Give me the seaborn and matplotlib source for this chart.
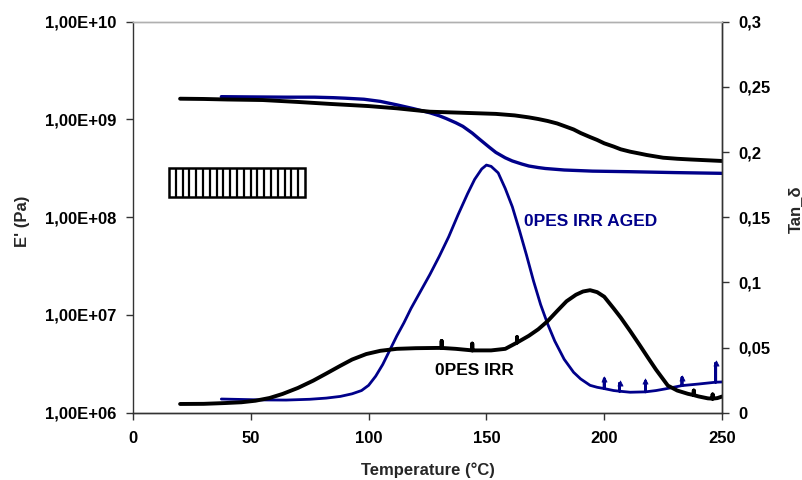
import numpy as np
import pandas as pd
import matplotlib
matplotlib.use("Agg")
import matplotlib.pyplot as plt
from matplotlib.patches import Rectangle
import seaborn as sns

# ---------------- data ----------------
# Storage modulus E' (Pa)
black_E_T = [20, 30, 40, 55, 70, 84, 100, 112, 126, 140, 154, 162, 168, 172, 176,
             180, 183, 187, 190, 194, 197, 200, 204, 207, 211, 215, 218, 225, 231,
             237, 244, 250]
black_E = [1.63e9, 1.62e9, 1.60e9, 1.58e9, 1.51e9, 1.44e9, 1.37e9, 1.30e9, 1.20e9,
           1.17e9, 1.14e9, 1.10e9, 1.05e9, 1.01e9, 9.64e8, 9.10e8, 8.57e8, 7.90e8,
           7.26e8, 6.60e8, 6.17e8, 5.70e8, 5.28e8, 4.95e8, 4.68e8, 4.48e8, 4.33e8,
           4.06e8, 3.96e8, 3.89e8, 3.82e8, 3.76e8]

blue_E_T = [37.5, 50, 65, 77, 85, 90, 98, 105, 112, 119, 126, 130, 133, 137, 140,
            144, 147, 151, 154, 158, 161, 165, 168, 172, 175, 183, 195, 211, 230, 250]
blue_E = [1.71e9, 1.70e9, 1.69e9, 1.69e9, 1.67e9, 1.65e9, 1.61e9, 1.53e9, 1.41e9,
          1.29e9, 1.17e9, 1.09e9, 1.02e9, 9.25e8, 8.50e8, 7.25e8, 6.30e8, 5.25e8,
          4.60e8, 4.05e8, 3.76e8, 3.50e8, 3.34e8, 3.22e8, 3.15e8, 3.04e8, 2.96e8,
          2.92e8, 2.86e8, 2.81e8]

# Tan delta
blue_tan_T = [37.5, 45, 55, 65, 75, 82, 88, 93, 97, 100, 103, 106, 109, 112, 115,
              118, 122, 126, 130, 134, 138, 142, 145, 148, 150, 152, 155, 158, 161,
              164, 167, 170, 173, 176, 179, 183, 187, 190, 194, 197,
              200, 200, 200, 204, 206.5, 206.5, 206.5, 211, 217.5, 217.5, 217.5,
              222, 226, 233, 233, 233, 240, 247.3, 247.3, 247.3, 250]
blue_tan = [0.0105, 0.0102, 0.0098, 0.0097, 0.0103, 0.0112, 0.0125, 0.0145, 0.017,
            0.021, 0.028, 0.037, 0.048, 0.059, 0.069, 0.080, 0.093, 0.106, 0.120,
            0.135, 0.152, 0.168, 0.179, 0.187, 0.190, 0.189, 0.184, 0.172, 0.158,
            0.140, 0.121, 0.101, 0.083, 0.068, 0.055, 0.041, 0.031, 0.0259, 0.021,
            0.0195,
            0.0185, 0.026, 0.0185, 0.017, 0.0165, 0.0225, 0.0165, 0.0157, 0.016,
            0.024, 0.016, 0.017, 0.0183, 0.0208, 0.027, 0.0208, 0.022,
            0.0234, 0.038, 0.0234, 0.0236]
blue_spike_T = [200, 206.5, 217.5, 233, 247.3]
blue_spike_top = [0.026, 0.0225, 0.024, 0.027, 0.038]

black_tan_T = [20, 30, 39, 46, 52, 58, 63.5, 70, 76.5, 82, 88, 93, 99, 105, 112, 120,
               129, 131, 131, 131, 137, 144, 144, 144, 152, 158, 163, 163, 163, 168,
               172, 176, 180, 184, 188, 191, 194, 197, 200, 204, 207, 211, 215,
               218.5, 222, 227, 231, 235.5, 238, 238, 238, 240, 244, 246, 246, 246,
               248, 250]
black_tan = [0.0067, 0.0068, 0.0074, 0.0080, 0.0092, 0.0113, 0.0144, 0.019, 0.0246,
             0.030, 0.036, 0.0408, 0.045, 0.0475, 0.049, 0.0495, 0.0497, 0.0497,
             0.055, 0.0497, 0.0490, 0.0478, 0.053, 0.0478, 0.0478, 0.049, 0.0538,
             0.058, 0.0538, 0.059, 0.064, 0.0703, 0.078, 0.0855, 0.0905, 0.093,
             0.094, 0.0925, 0.089, 0.080, 0.073, 0.0627, 0.052, 0.0424, 0.033,
             0.0208, 0.017, 0.0145, 0.0135, 0.017, 0.0135, 0.0125, 0.011, 0.0108,
             0.014, 0.0108, 0.0112, 0.0124]

x_ticks = [0, 50, 100, 150, 200, 250]
left_ticks = [1e6, 1e7, 1e8, 1e9, 1e10]
left_tick_labels = ["1,00E+06", "1,00E+07", "1,00E+08", "1,00E+09", "1,00E+10"]
right_ticks = [0, 0.05, 0.1, 0.15, 0.2, 0.25, 0.3]
right_tick_labels = ["0", "0,05", "0,1", "0,15", "0,2", "0,25", "0,3"]

label_aged = "0PES IRR AGED"
label_irr = "0PES IRR"

# ---------------- style ----------------
sns.set_style("ticks")
plt.rcParams["font.family"] = ["Liberation Sans", "DejaVu Sans"]
plt.rcParams["font.weight"] = "bold"

NAVY = "#00008a"
BLACK = "#000000"
FS = 12

fig = plt.figure(figsize=(8.02, 4.80), dpi=100)
ax = fig.add_axes([0.1658, 0.1402, 0.7345, 0.8146])
ax2 = ax.twinx()

# E' curves (left, log)
sns.lineplot(x=blue_E_T, y=blue_E, ax=ax, color=NAVY, lw=2.4,
             estimator=None, sort=False)
sns.lineplot(x=black_E_T, y=black_E, ax=ax, color=BLACK, lw=2.8,
             estimator=None, sort=False)
ax.set_yscale("log")
ax.set_ylim(1e6, 1e10)
ax.set_xlim(0, 250)

# tan delta curves (right)
sns.lineplot(x=blue_tan_T, y=blue_tan, ax=ax2, color=NAVY, lw=2.0,
             estimator=None, sort=False)
sns.scatterplot(x=blue_spike_T, y=blue_spike_top, ax=ax2, color=NAVY,
                marker="^", s=14, edgecolor=NAVY, linewidth=0.5)
sns.lineplot(x=black_tan_T, y=black_tan, ax=ax2, color=BLACK, lw=2.8,
             estimator=None, sort=False)
ax2.set_ylim(0, 0.3)

# ticks
ax.set_xticks(x_ticks)
ax.set_xticklabels([str(v) for v in x_ticks], fontsize=FS, fontweight="bold")
ax.set_yticks(left_ticks)
ax.set_yticklabels(left_tick_labels, fontsize=FS, fontweight="bold")
ax.yaxis.set_minor_locator(matplotlib.ticker.NullLocator())
ax2.set_yticks(right_ticks)
ax2.set_yticklabels(right_tick_labels, fontsize=FS, fontweight="bold")
ax2.yaxis.set_minor_locator(matplotlib.ticker.NullLocator())
for a in (ax, ax2):
    a.tick_params(axis="both", which="major", direction="out", length=5,
                  width=1, color="#333333", labelcolor="#000000")
ax.tick_params(axis="y", pad=7)
ax.tick_params(axis="x", pad=8)
ax2.tick_params(axis="y", pad=7)

# spines
for a in (ax, ax2):
    for s in ("left", "right", "bottom"):
        a.spines[s].set_color("#333333")
        a.spines[s].set_linewidth(1.0)
    a.spines["top"].set_color("#b0b0b0")
    a.spines["top"].set_linewidth(1.0)
ax2.spines["left"].set_visible(False)

# axis labels
ax.set_xlabel("Temperature (°C)", fontsize=FS, fontweight="bold")
ax.xaxis.set_label_coords(0.5, -0.147)
ax.xaxis.label.set_va("center")
ax.set_ylabel("E' (Pa)", fontsize=FS, fontweight="bold")
ax.yaxis.set_label_coords(-0.187, 0.49)
ax.yaxis.label.set_va("center")
ax2.set_ylabel("Tan_δ", fontsize=FS, fontweight="bold")
ax2.yaxis.set_label_coords(1.124, 0.52)
ax2.yaxis.label.set_va("center")

# annotations
ax2.text(166, 0.147, label_aged, color=NAVY, fontsize=12.5, fontweight="bold",
         ha="left", va="center")
ax2.text(128, 0.0327, label_irr, color=BLACK, fontsize=12.5, fontweight="bold",
         ha="left", va="center")

# hatched empty legend box
bx0, bx1, by0, by1 = 0.061, 0.292, 0.552, 0.626
ax.add_patch(Rectangle((bx0, by0), bx1 - bx0, by1 - by0, transform=ax.transAxes,
                       facecolor="white", edgecolor="black", lw=1.8, zorder=5))
n_stripes = 20
for i in range(1, n_stripes):
    xs = bx0 + (bx1 - bx0) * i / n_stripes
    ax.plot([xs, xs], [by0, by1], transform=ax.transAxes, color="black",
            lw=1.6, zorder=6, solid_capstyle="butt")

fig.savefig("out.png", dpi=100)
